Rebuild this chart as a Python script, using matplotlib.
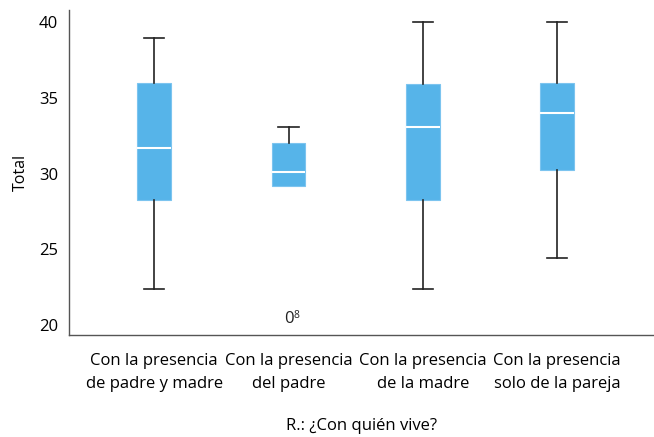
import matplotlib.pyplot as plt

plt.rcParams['font.family'] = ['Open Sans', 'DejaVu Sans']

grupos = ['Con la presencia\nde padre y madre', 'Con la presencia\ndel padre',
          'Con la presencia\nde la madre', 'Con la presencia\nsolo de la pareja']
minimos = [22.4, 29.2, 22.4, 24.4]
q1 = [28.25, 29.2, 28.25, 30.2]
medianas = [31.7, 30.1, 33.1, 34.0]
q3 = [36.0, 32.0, 35.9, 36.0]
maximos = [38.95, 33.1, 40.0, 40.0]
atipicos = [[], [20.4], [], []]
casos = [[], ['8'], [], []]

fig = plt.figure(figsize=(6.54, 4.37), dpi=100)
ax = fig.add_axes([0.1055, 0.2334, 0.8945, 0.7436])

stats = []
for i in range(len(grupos)):
    stats.append({'whislo': minimos[i], 'q1': q1[i], 'med': medianas[i],
                  'q3': q3[i], 'whishi': maximos[i], 'fliers': []})

pos = list(range(len(grupos)))
res = ax.bxp(stats, positions=pos, widths=0.25, patch_artist=True, showfliers=False,
             boxprops=dict(facecolor='#56B4E9', edgecolor='#7cc4ef', linewidth=0.8),
             medianprops=dict(color='white', linewidth=1.5),
             whiskerprops=dict(color='#222222', linewidth=1.2),
             capprops=dict(color='#222222', linewidth=1.2), capwidths=0.15)

# sin bigote inferior cuando coincide con q1
for i in pos:
    if minimos[i] >= q1[i]:
        res['caps'][2 * i].set_visible(False)
        res['whiskers'][2 * i].set_visible(False)

# atipicos con numero de caso
for i in pos:
    for v, c in zip(atipicos[i], casos[i]):
        ax.text(i, v, '0', ha='center', va='center', fontsize=12, color='#222222')
        ax.text(i + 0.04, v + 0.2, c, ha='left', va='center', fontsize=7.5, color='#222222')

ax.set_xlim(-0.634, 3.72)
ax.set_ylim(19.34, 40.79)
ax.set_yticks([20, 25, 30, 35, 40])
ax.set_xticks(pos)
ax.set_xticklabels(grupos, fontsize=12, linespacing=1.55)
ax.tick_params(axis='y', labelsize=12, length=0, pad=8)
ax.tick_params(axis='x', length=0, pad=13)
ax.set_ylabel('Total', fontsize=11.5, labelpad=7)
ax.set_xlabel('R.: ¿Con quién vive?', fontsize=12, labelpad=19)

for s in ['top', 'right']:
    ax.spines[s].set_visible(False)
for s in ['left', 'bottom']:
    ax.spines[s].set_color('#555555')
    ax.spines[s].set_linewidth(1)

fig.savefig('out.png', dpi=100)
